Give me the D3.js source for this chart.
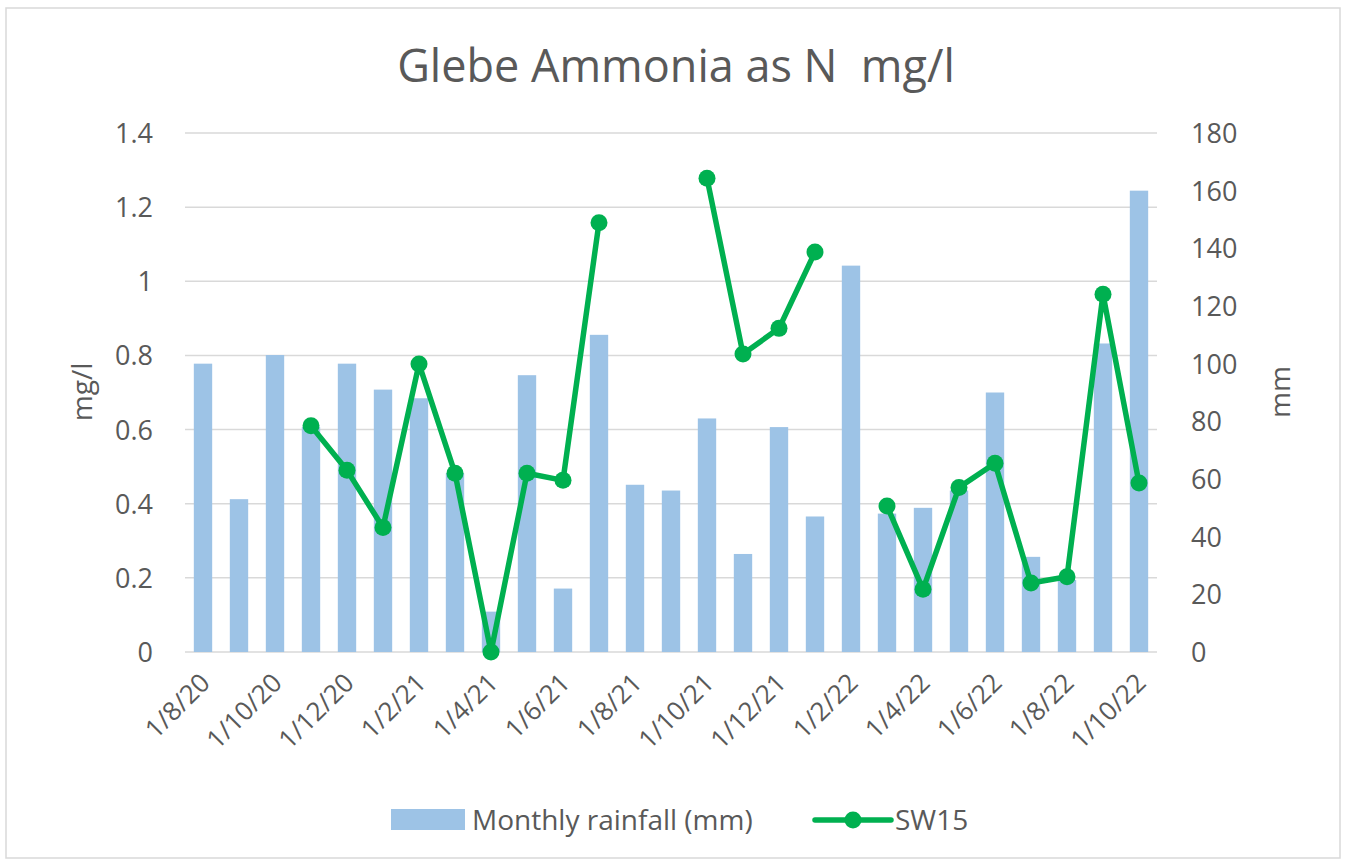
<!DOCTYPE html>
<html>
<head>
<meta charset="utf-8">
<script src="https://cdn.jsdelivr.net/npm/d3@7"></script>
<style>
  body { margin: 0; background: #fff; }
  text { font-family: "Open Sans", "Noto Sans", sans-serif; fill: #595959; }
</style>
</head>
<body>
<svg id="canvas" width="1346" height="864"></svg>
<script>
// Months from 1/8/20 to 1/10/22
const months = ["1/8/20","1/9/20","1/10/20","1/11/20","1/12/20","1/1/21","1/2/21","1/3/21","1/4/21",
  "1/5/21","1/6/21","1/7/21","1/8/21","1/9/21","1/10/21","1/11/21","1/12/21","1/1/22","1/2/22",
  "1/3/22","1/4/22","1/5/22","1/6/22","1/7/22","1/8/22","1/9/22","1/10/22"];

// Monthly rainfall (mm), right axis
const rainfall = [100, 53, 103, 78, 100, 91, 88, 62, 14, 96, 22, 110, 58, 56, 81, 34, 78, 47, 134,
  48, 50, 56, 90, 33, 25, 107, 160];

// SW15 ammonia (mg/l), left axis; null = no sample
const sw15 = [null, null, null, 0.61, 0.49, 0.336, 0.777, 0.482, 0, 0.482, 0.463, 1.158, null, null,
  1.278, 0.804, 0.873, 1.079, null, 0.394, 0.169, 0.444, 0.509, 0.186, 0.203, 0.965, 0.456];

const leftTicks = [0, 0.2, 0.4, 0.6, 0.8, 1, 1.2, 1.4];
const rightTicks = [0, 20, 40, 60, 80, 100, 120, 140, 160, 180];
const tickLabels = months.filter((d, i) => i % 2 === 0);

const svg = d3.select("#canvas");
const plot = { left: 185, right: 1157, top: 133, bottom: 652 };

// Chart border
svg.append("rect")
  .attr("x", 6).attr("y", 8).attr("width", 1334).attr("height", 850)
  .attr("fill", "#fff").attr("stroke", "#d9d9d9").attr("stroke-width", 1.5);

const x = d3.scaleBand().domain(months).range([plot.left, plot.right]).paddingInner(0.49).paddingOuter(0.245);
const yL = d3.scaleLinear().domain([0, 1.4]).range([plot.bottom, plot.top]);
const yR = d3.scaleLinear().domain([0, 180]).range([plot.bottom, plot.top]);

// Gridlines
svg.append("g").selectAll("line").data(leftTicks).enter().append("line")
  .attr("x1", plot.left).attr("x2", plot.right)
  .attr("y1", d => yL(d)).attr("y2", d => yL(d))
  .attr("stroke", "#d9d9d9").attr("stroke-width", 1.5);

// Bars
svg.append("g").selectAll("rect").data(rainfall).enter().append("rect")
  .attr("x", (d, i) => x(months[i]))
  .attr("y", d => yR(d))
  .attr("width", x.bandwidth())
  .attr("height", d => plot.bottom - yR(d))
  .attr("fill", "#9dc3e6");

// Line
const cx = i => x(months[i]) + x.bandwidth() / 2;
const line = d3.line()
  .defined(d => d !== null)
  .x((d, i) => cx(i))
  .y(d => yL(d));
svg.append("path").datum(sw15)
  .attr("d", line)
  .attr("fill", "none").attr("stroke", "#00b050").attr("stroke-width", 5.5)
  .attr("stroke-linejoin", "round");
svg.append("g").selectAll("circle")
  .data(sw15.map((v, i) => ({ v, i })).filter(d => d.v !== null))
  .enter().append("circle")
  .attr("cx", d => cx(d.i)).attr("cy", d => yL(d.v)).attr("r", 8.5)
  .attr("fill", "#00b050");

// Left axis
const leftAxis = d3.axisLeft(yL).tickValues(leftTicks).tickSize(0).tickPadding(32).tickFormat(d => String(d));
const gL = svg.append("g").attr("transform", `translate(${plot.left},0)`).call(leftAxis);
gL.select(".domain").remove();
gL.selectAll("text").style("font-size", "27px").attr("fill", "#595959").attr("dy", "0.35em");

// Right axis
const rightAxis = d3.axisRight(yR).tickValues(rightTicks).tickSize(0).tickPadding(34);
const gR = svg.append("g").attr("transform", `translate(${plot.right},0)`).call(rightAxis);
gR.select(".domain").remove();
gR.selectAll("text").style("font-size", "27px").attr("fill", "#595959").attr("dy", "0.35em");

// Bottom axis (every second month)
const bottomAxis = d3.axisBottom(x).tickValues(tickLabels).tickSize(0).tickPadding(0);
const gB = svg.append("g").attr("transform", `translate(0,${plot.bottom})`).call(bottomAxis);
gB.select(".domain").remove();
gB.selectAll("text")
  .style("font-size", "26px").attr("fill", "#595959")
  .attr("text-anchor", "end")
  .attr("dy", "0.35em")
  .attr("transform", "translate(2,26) rotate(-45)")
  .attr("y", 0).attr("x", 0);

// Title
svg.append("text").attr("x", 676).attr("y", 82).attr("text-anchor", "middle")
  .style("font-size", "45px").style("white-space", "pre").text("Glebe Ammonia as N  mg/l");

// Axis titles
svg.append("text").attr("transform", "translate(92,392) rotate(-90)").attr("text-anchor", "middle")
  .style("font-size", "28px").text("mg/l");
svg.append("text").attr("transform", "translate(1290,392) rotate(-90)").attr("text-anchor", "middle")
  .style("font-size", "28px").text("mm");

// Legend
const lg = svg.append("g");
lg.append("rect").attr("x", 391).attr("y", 809).attr("width", 74).attr("height", 21).attr("fill", "#9dc3e6");
lg.append("text").attr("x", 472).attr("y", 820).attr("dy", "0.35em").style("font-size", "28px").text("Monthly rainfall (mm)");
lg.append("line").attr("x1", 815).attr("x2", 891).attr("y1", 820).attr("y2", 820)
  .attr("stroke", "#00b050").attr("stroke-width", 5.5).attr("stroke-linecap", "round");
lg.append("circle").attr("cx", 853).attr("cy", 820).attr("r", 8.5).attr("fill", "#00b050");
lg.append("text").attr("x", 895).attr("y", 820).attr("dy", "0.35em").style("font-size", "28px").text("SW15");
</script>
</body>
</html>
